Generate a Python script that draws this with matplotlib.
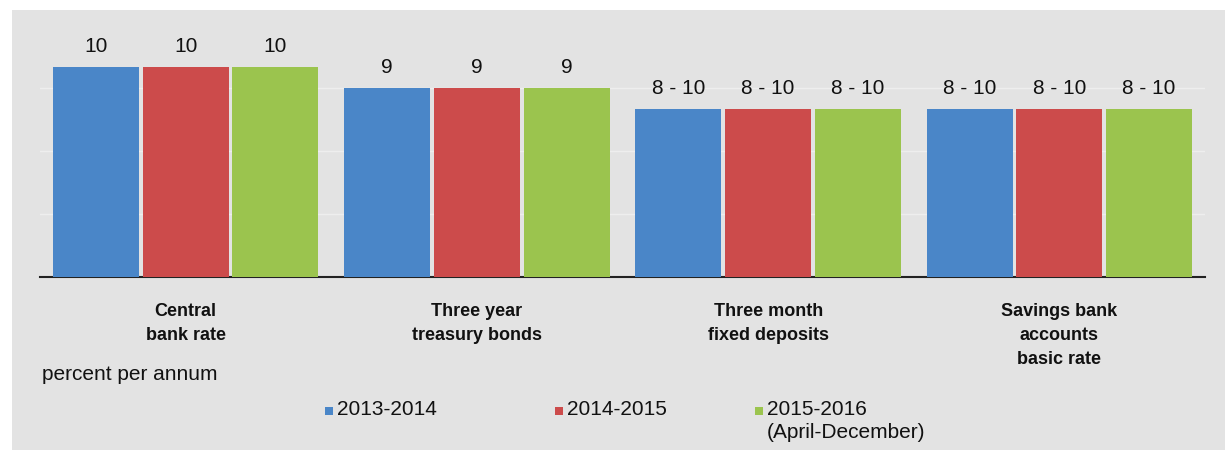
import matplotlib.pyplot as plt
import numpy as np

plt.rcParams['font.family'] = ['Liberation Sans', 'DejaVu Sans']

# Data
categories = ["Central\nbank rate", "Three year\ntreasury bonds",
              "Three month\nfixed deposits", "Savings bank\naccounts\nbasic rate"]
series_names = ["2013-2014", "2014-2015", "2015-2016\n(April-December)"]
rates_1314 = [10, 9, 8, 8]
rates_1415 = [10, 9, 8, 8]
rates_1516 = [10, 9, 8, 8]
labels_1314 = ["10", "9", "8 - 10", "8 - 10"]
labels_1415 = ["10", "9", "8 - 10", "8 - 10"]
labels_1516 = ["10", "9", "8 - 10", "8 - 10"]

colors = ["#4a86c8", "#cc4b4b", "#9bc44e"]
bg = "#e3e3e3"
W, H = 1225, 450

fig = plt.figure(figsize=(12.25, 4.5), dpi=100)
fig.patch.set_facecolor("white")

# grey panel behind everything
panel = fig.add_axes([12 / W, 0, 1 - 12 / W, 1 - 10 / H], zorder=-5)
panel.set_axis_off()
panel.add_patch(plt.Rectangle((0, 0), 1, 1, transform=panel.transAxes,
                              facecolor=bg, edgecolor="none"))

ax = fig.add_axes([40 / W, 1 - 277 / H, 1165 / W, 232 / H])
ax.set_facecolor(bg)

x = np.arange(len(categories))
step = 0.308
width = 0.295
all_vals = [rates_1314, rates_1415, rates_1516]
all_labels = [labels_1314, labels_1415, labels_1516]

for i in range(3):
    pos = x + (i - 1) * step
    ax.bar(pos, all_vals[i], width=width, color=colors[i], zorder=3)
    for p, v, lab in zip(pos, all_vals[i], all_labels[i]):
        ax.text(p, v + 0.98, lab, ha="center", va="center", fontsize=15,
                color="#111111")

ax.set_xlim(-0.5, 3.5)
ax.set_ylim(0, 232 / 21)
ax.set_yticks([3, 6, 9])
ax.yaxis.grid(True, color="#eeeeee", linewidth=1.0, zorder=1)
ax.tick_params(left=False, labelleft=False, bottom=False)
ax.set_xticks(x)
ax.set_xticklabels(categories, fontsize=13, fontweight="bold",
                   linespacing=1.56, va="top", color="#111111")
ax.tick_params(axis="x", pad=15)
for s in ["top", "right", "left"]:
    ax.spines[s].set_visible(False)
ax.spines["bottom"].set_color("#222222")
ax.spines["bottom"].set_linewidth(1.5)

fig.text(42 / W, 1 - 375 / H, "percent per annum", fontsize=15,
         ha="left", va="center", color="#111111")

# legend
legend_x = [325, 555, 755]
for lx, c, name in zip(legend_x, colors, series_names):
    fig.patches.append(plt.Rectangle((lx / W, 1 - 415 / H), 8 / W, 8 / H,
                                     transform=fig.transFigure, facecolor=c,
                                     edgecolor="none"))
    fig.text((lx + 12) / W, 1 - 400 / H, name, fontsize=15, ha="left",
             va="top", linespacing=1.25, color="#111111")

fig.savefig("out.png", dpi=100, facecolor=fig.get_facecolor())
